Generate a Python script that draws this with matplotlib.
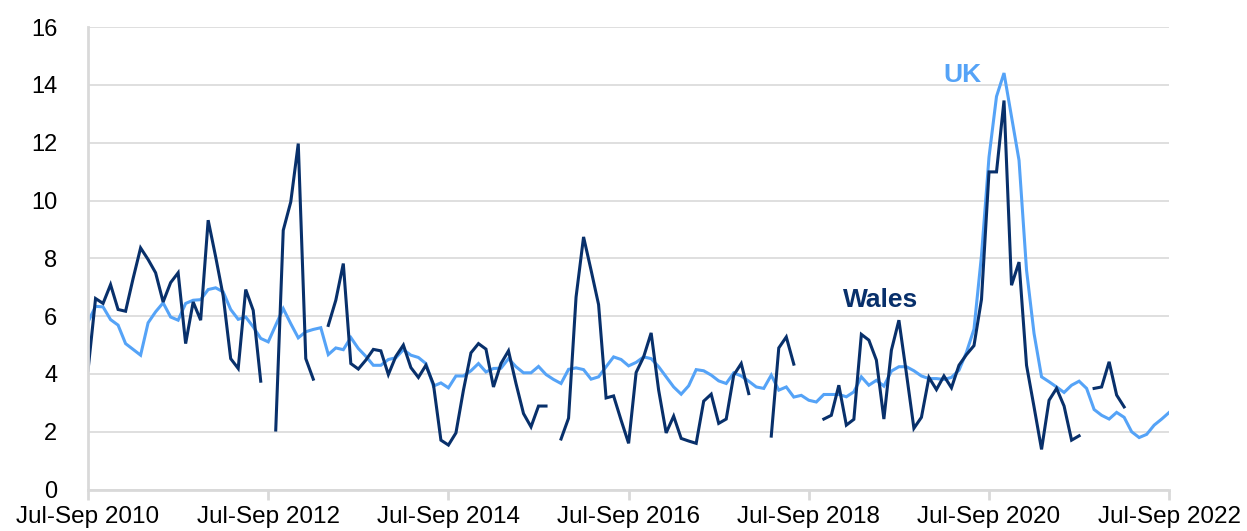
import numpy as np
import matplotlib.pyplot as plt

plt.rcParams['font.family'] = ['Liberation Sans', 'DejaVu Sans']

# Rolling quarterly rate, Jul-Sep 2010 to Jul-Sep 2022 (one value per month)
wales = [4.13, 6.61, 6.44, 7.09, 6.23, 6.17, 7.30, 8.36, 7.96, 7.50,
         6.49, 7.16, 7.50, 5.05, 6.49, 5.86, 9.32, 8.05, 6.70, 4.53,
         4.19, 6.92, 6.20, 3.75, None, 2.06, 8.97, 9.95, 11.97, 4.53,
         3.82, None, 5.68, 6.55, 7.82, 4.36, 4.17, 4.48, 4.85, 4.80,
         3.98, 4.61, 5.00, 4.22, 3.88, 4.30, 3.65, 1.71, 1.54, 1.96,
         3.44, 4.73, 5.05, 4.86, 3.55, 4.36, 4.80, 3.67, 2.63, 2.17,
         2.89, 2.89, None, 1.75, 2.47, 6.66, 8.74, 7.59, 6.40, 3.17,
         3.24, 2.40, 1.60, 4.05, 4.59, 5.42, 3.44, 1.96, 2.54, 1.77,
         1.68, 1.60, 3.06, 3.30, 2.29, 2.44, 3.96, 4.36, 3.32, None,
         None, 1.85, 4.90, 5.28, 4.34, None, None, None, 2.44, 2.57,
         3.61, 2.23, 2.43, 5.37, 5.17, 4.48, 2.44, 4.82, 5.86, 4.02,
         2.12, 2.50, 3.88, 3.46, 3.93, 3.52, 4.30, 4.67, 4.98, 6.58,
         10.99, 10.99, 13.46, 7.07, 7.87, 4.30, 2.86, 1.39, 3.09, 3.50,
         2.89, 1.71, 1.86, None, 3.50, 3.55, 4.42, 3.27, 2.86, None,
         None, None, None, None, None]

uk = [5.80, 6.34, 6.32, 5.88, 5.69, 5.05, 4.85, 4.65, 5.77, 6.15,
      6.46, 5.97, 5.86, 6.44, 6.55, 6.57, 6.92, 6.98, 6.84, 6.23,
      5.89, 5.97, 5.63, 5.23, 5.11, 5.69, 6.26, 5.74, 5.25, 5.46,
      5.54, 5.60, 4.67, 4.90, 4.84, 5.26, 4.88, 4.61, 4.30, 4.30,
      4.50, 4.56, 4.84, 4.65, 4.57, 4.36, 3.58, 3.69, 3.52, 3.93,
      3.93, 4.11, 4.36, 4.07, 4.19, 4.20, 4.53, 4.25, 4.04, 4.04,
      4.26, 3.98, 3.81, 3.67, 4.16, 4.21, 4.15, 3.82, 3.90, 4.25,
      4.59, 4.50, 4.28, 4.40, 4.59, 4.53, 4.25, 3.90, 3.55, 3.30,
      3.59, 4.15, 4.11, 3.96, 3.76, 3.67, 4.04, 3.93, 3.75, 3.55,
      3.50, 3.96, 3.44, 3.55, 3.20, 3.26, 3.09, 3.03, 3.29, 3.29,
      3.29, 3.21, 3.38, 3.90, 3.61, 3.78, 3.58, 4.10, 4.25, 4.25,
      4.11, 3.93, 3.84, 3.84, 3.81, 3.88, 4.13, 4.75, 5.55, 8.10,
      11.50, 13.60, 14.41, 12.90, 11.39, 7.59, 5.40, 3.90, 3.73, 3.55,
      3.36, 3.61, 3.75, 3.50, 2.77, 2.57, 2.44, 2.67, 2.50, 2.00,
      1.80, 1.91, 2.23, 2.44, 2.67]

tick_labels = ['Jul-Sep 2010', 'Jul-Sep 2012', 'Jul-Sep 2014', 'Jul-Sep 2016',
               'Jul-Sep 2018', 'Jul-Sep 2020', 'Jul-Sep 2022']

uk_color = '#55a3f7'
wales_color = '#08306b'
grey = '#d9d9d9'

x = np.arange(len(uk))
wales_arr = np.array([np.nan if v is None else v for v in wales])

fig = plt.figure(figsize=(12.47, 5.31), dpi=100)
ax = fig.add_axes([0.0706, 0.078, 0.867, 0.871])

ax.plot(x, uk, color=uk_color, lw=2.2, solid_joinstyle='miter')
ax.plot(x, wales_arr, color=wales_color, lw=2.2, solid_joinstyle='miter')

ax.set_xlim(0, len(uk) - 1)
ax.set_ylim(0, 16)
ax.set_yticks(range(0, 17, 2))
ax.set_xticks(np.arange(0, len(uk), 24))
ax.set_xticklabels(tick_labels)

ax.grid(axis='y', color=grey, lw=1.2)
ax.set_axisbelow(True)
for s in ['top', 'right']:
    ax.spines[s].set_visible(False)
for s in ['left', 'bottom']:
    ax.spines[s].set_color(grey)
    ax.spines[s].set_linewidth(2)
ax.tick_params(axis='y', length=0, pad=22, labelsize=17, labelcolor='black')
ax.tick_params(axis='x', length=7, width=2, color=grey, pad=5,
               labelsize=17.5, labelcolor='black')

ax.text(116.5, 14.35, 'UK', color=uk_color, fontsize=19, fontweight='bold',
        ha='center', va='center')
ax.text(105.6, 6.55, 'Wales', color=wales_color, fontsize=19, fontweight='bold',
        ha='center', va='center')

fig.savefig('out.png', dpi=100)
